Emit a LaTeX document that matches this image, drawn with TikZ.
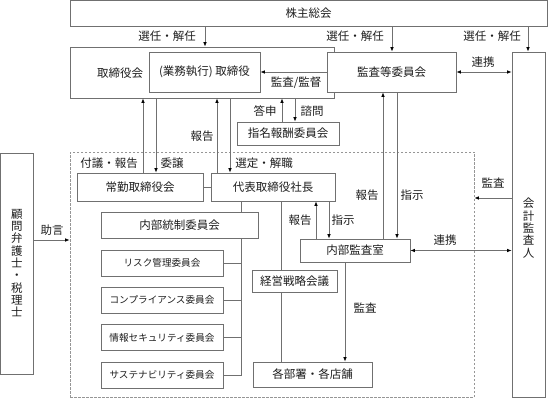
\documentclass[tikz,border=0pt]{standalone}
\usepackage{fontspec}
\newfontfamily\jp{Noto Sans CJK JP}
\usetikzlibrary{arrows.meta}
\definecolor{linec}{RGB}{112,112,112}
\definecolor{dashc}{RGB}{150,150,150}
\definecolor{txtc}{RGB}{30,30,30}
\begin{document}
\begin{tikzpicture}[x=1pt,y=-1pt,
  box/.style={draw=linec, fill=white, line width=0.8pt, inner sep=0pt, text=txtc,
    font=\jp\fontsize{11.5}{13}\selectfont},
  cbox/.style={box, font=\jp\fontsize{9.6}{11}\selectfont},
  region/.style={draw=dashc, line width=0.8pt, dash pattern=on 2.5pt off 1.5pt, inner sep=0pt},
  lbl/.style={text=txtc, inner sep=0pt, font=\jp\fontsize{11.5}{13}\selectfont},
  vtxt/.style={text=txtc, inner sep=0pt, align=center, font=\jp\fontsize{11.5}{12.3}\selectfont},
  conn/.style={draw=linec, line width=0.8pt},
  arr/.style={conn, -{Latex[length=4.5pt,width=3.6pt,color=black]}},
  darr/.style={conn, {Latex[length=4.5pt,width=3.6pt,color=black]}-{Latex[length=4.5pt,width=3.6pt,color=black]}}]
\useasboundingbox (0,0) rectangle (548,398);

% region
\node[region, minimum width=404pt, minimum height=245pt] (dr) at (272,274.5) {};

% boxes
\node[box, minimum width=477pt, minimum height=25.5pt] (sh) at (308.5,13.25) {株主総会};
\node[box, minimum width=264pt, minimum height=51pt] (tb) at (202,72.5) {};
\node[lbl] (tbt) at (120,73) {取締役会};
\node[box, minimum width=111pt, minimum height=40pt] (ex) at (204.5,72) {(業務執行) 取締役};
\node[box, minimum width=129pt, minimum height=40pt] (ac) at (391.5,72) {監査等委員会};
\node[box, minimum width=33pt, minimum height=345pt] (ka) at (528.5,224.5) {};
\node[vtxt] (kat) at (528.5,228) {会\\計\\監\\査\\人};
\node[box, minimum width=102pt, minimum height=23pt] (nm) at (288,133.5) {指名報酬委員会};
\node[box, minimum width=126pt, minimum height=28pt] (jk) at (140,187) {常勤取締役会};
\node[box, minimum width=124pt, minimum height=28pt] (dp) at (273,187) {代表取締役社長};
\node[box, minimum width=157pt, minimum height=26pt] (nt) at (179.5,225) {内部統制委員会};
\node[cbox, minimum width=122pt, minimum height=26pt] (c1) at (162,263) {リスク管理委員会};
\node[cbox, minimum width=122pt, minimum height=26pt] (c2) at (162,300) {コンプライアンス委員会};
\node[cbox, minimum width=122pt, minimum height=26pt] (c3) at (162,337.5) {情報セキュリティ委員会};
\node[cbox, minimum width=122pt, minimum height=26pt] (c4) at (162,375) {サステナビリティ委員会};
\node[box, minimum width=85pt, minimum height=22pt] (ks) at (294.5,281) {経営戦略会議};
\node[box, minimum width=119pt, minimum height=25pt] (bs) at (312.5,374.5) {各部署・各店舗};
\node[box, minimum width=110pt, minimum height=23pt] (ia) at (355,250.5) {内部監査室};
\node[box, minimum width=33pt, minimum height=221pt] (kr) at (16.75,263.5) {};
\node[vtxt] (krt) at (16.75,263) {顧\\問\\弁\\護\\士\\・\\税\\理\\士};

% top arrows
\draw[arr] (205,0 |- sh.south) -- (205,0 |- tb.north);
\node[lbl] at (167,36) {選任・解任};
\draw[arr] (392,0 |- sh.south) -- (392,0 |- ac.north);
\node[lbl] at (355,36) {選任・解任};
\draw[arr] (528,0 |- sh.south) -- (528,0 |- ka.north);
\node[lbl] at (492,36) {選任・解任};

% audit committee links
\draw[arr] (ac.west) -- (ex.east);
\node[lbl] at (296,83) {監査/監督};
\draw[darr] (ac.east) -- (ka.west |- ac.east);
\node[lbl] at (483,62) {連携};

% nomination committee
\draw[arr] (282,0 |- nm.north) -- (282,0 |- tb.south);
\node[lbl] at (265,111) {答申};
\draw[arr] (295,0 |- tb.south) -- (295,0 |- nm.north);
\node[lbl] at (312,111) {諮問};

% board to executives
\draw[arr] (143,0 |- jk.north) -- (143,0 |- tb.south);
\draw[arr] (156,0 |- tb.south) -- (156,0 |- jk.north);
\node[lbl] at (109,163) {付議・報告};
\node[lbl] at (172,163) {委譲};
\draw[arr] (217,0 |- dp.north) -- (217,0 |- tb.south);
\node[lbl] at (202,136) {報告};
\draw[arr] (230,0 |- tb.south) -- (230,0 |- dp.north);
\node[lbl] at (264,163) {選定・解職};

% internal structure
\draw[conn] (jk.east) -- (dp.west);
\draw[conn] (241,0 |- dp.south) -- (241,0 |- nt.north);
\draw[conn] (241,0 |- nt.south) -- (241,0 |- c4.east) -- (c4.east);
\draw[conn] (c1.east) -- (241,0 |- c1.east);
\draw[conn] (c2.east) -- (241,0 |- c2.east);
\draw[conn] (c3.east) -- (241,0 |- c3.east);
\draw[conn] (281,0 |- dp.south) -- (281,0 |- ks.north);
\draw[conn] (281,0 |- ks.south) -- (281,0 |- bs.north);

% internal audit
\draw[arr] (316,0 |- ia.north) -- (316,0 |- dp.south);
\node[lbl] at (300,220) {報告};
\draw[arr] (329,0 |- dp.south) -- (329,0 |- ia.north);
\node[lbl] at (343,220) {指示};
\draw[arr] (383,0 |- ia.north) -- (383,0 |- ac.south);
\node[lbl] at (367,195) {報告};
\draw[arr] (397,0 |- ac.south) -- (397,0 |- ia.north);
\node[lbl] at (412,195) {指示};
\draw[arr] (345,0 |- ia.south) -- (345,0 |- bs.north);
\node[lbl] at (365,308) {監査};
\draw[darr] (ia.east) -- (ka.west |- ia.east);
\node[lbl] at (445,240) {連携};

% external
\draw[arr] (ka.west |- 0,198) -- (dr.east |- 0,198);
\node[lbl] at (493,183) {監査};
\draw[arr] (kr.east |- 0,240) -- (dr.west |- 0,240);
\node[lbl] at (52,230) {助言};
\end{tikzpicture}
\end{document}
